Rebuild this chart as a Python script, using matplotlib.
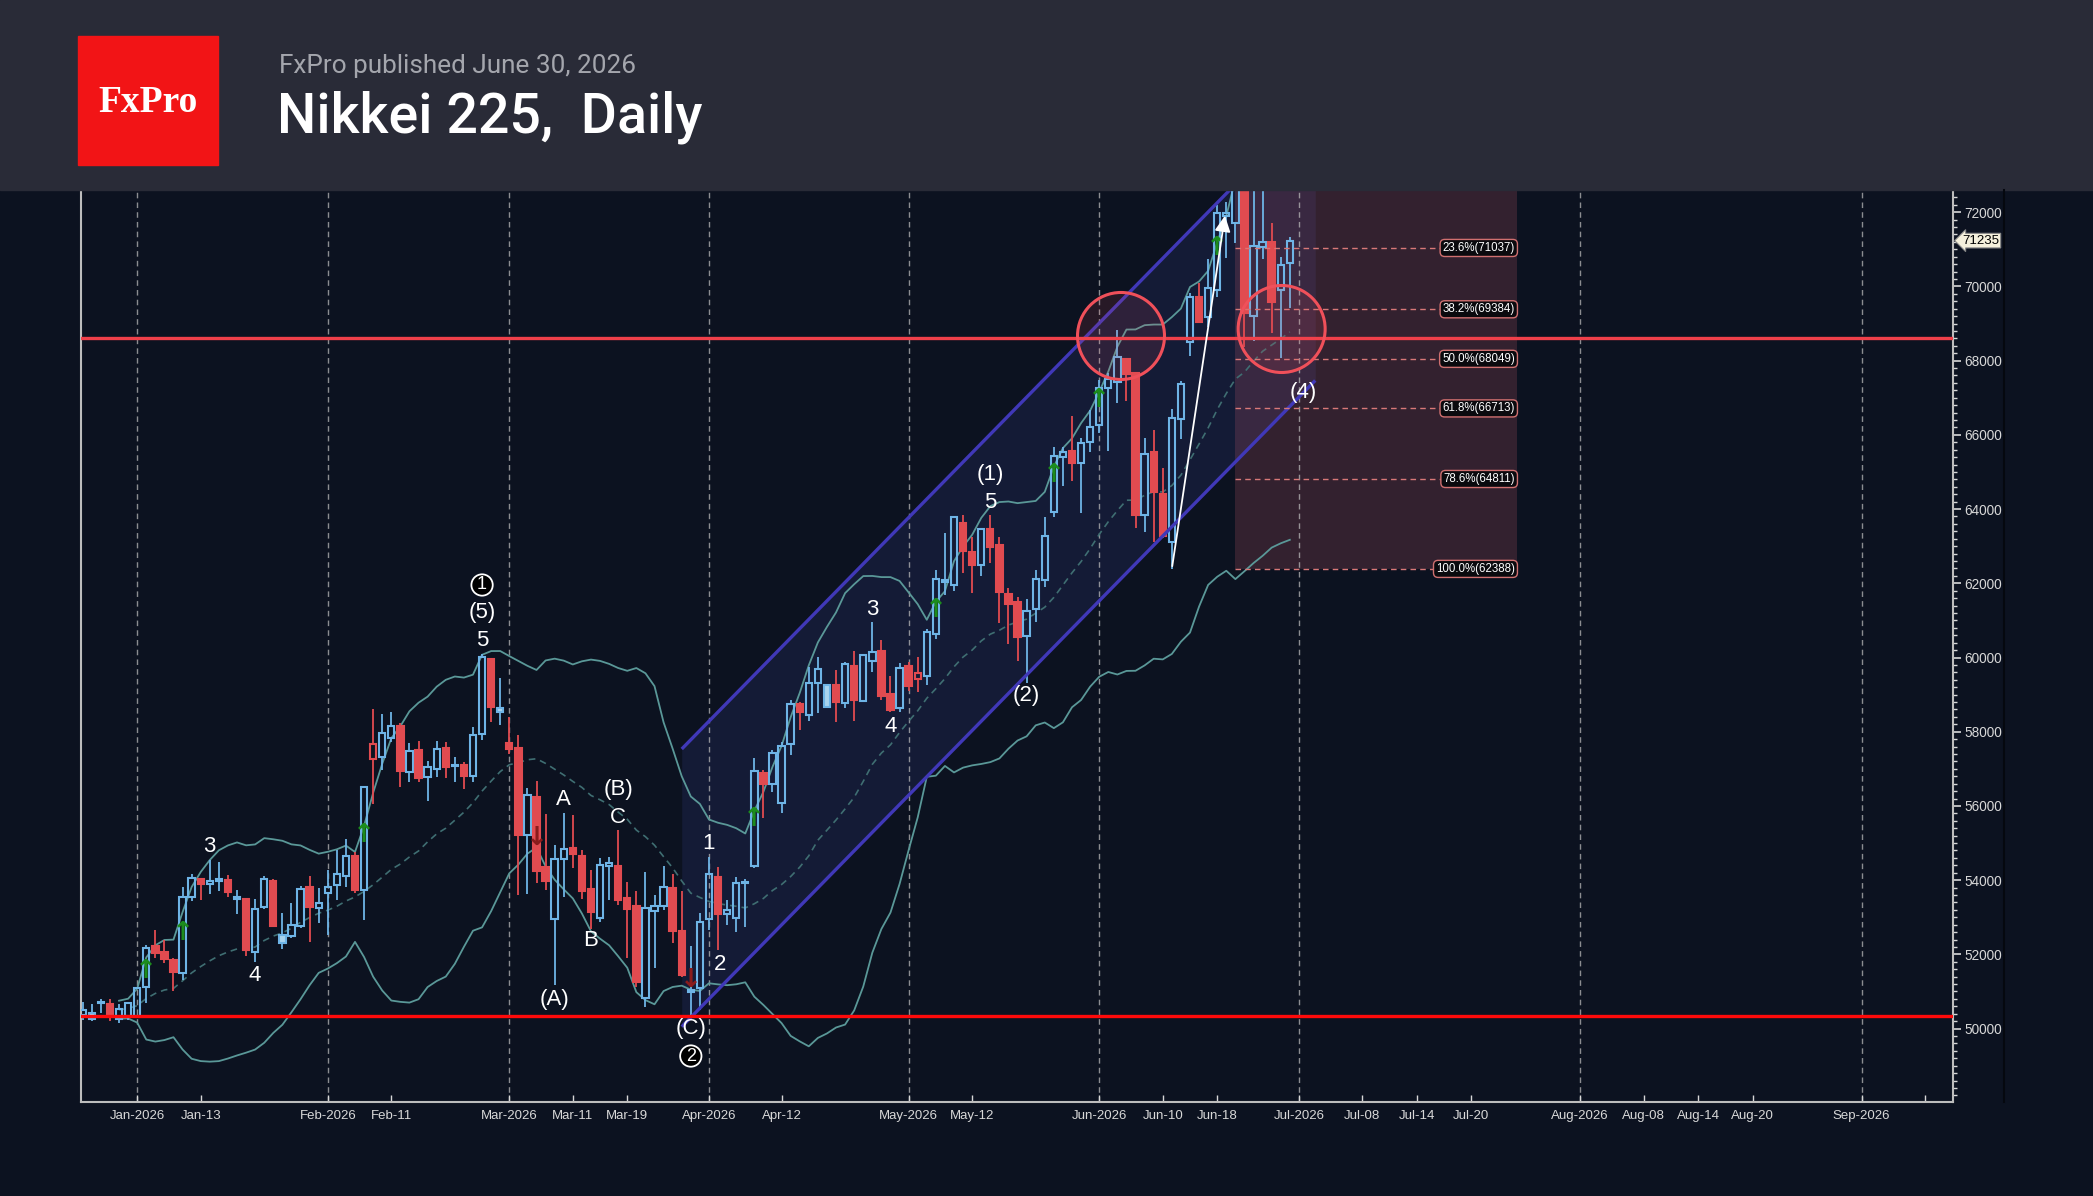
import numpy as np
import pandas as pd
import matplotlib
matplotlib.use('Agg')
import matplotlib.pyplot as plt
from matplotlib.patches import Rectangle, Ellipse
from matplotlib.lines import Line2D

# --- data (bar index 0 = first trading day of Jan 2026) ---
first_bar = -6
opens = [50365, 50250, 50680, 50660, 50260, 50340, 50340, 51130, 52220, 52070,
         51845, 51490, 53554, 54040, 53895, 53965, 54003, 53500, 53482, 52072,
         53284, 53985, 52314, 52494, 52772, 53823, 53240, 53645, 53870, 54121,
         54660, 53735, 57270, 57310, 57840, 58164, 56906, 57508, 56771, 56996,
         57570, 57075, 57103, 56807, 57939, 59951, 58631, 57687, 57570, 55217,
         56250, 54346, 52953, 54570, 54875, 54660, 53753, 52989, 54381, 54381,
         53510, 53312, 50816, 53177, 53303, 53798, 52639, 51013, 51085, 52953,
         54093, 53088, 52989, 53919, 54381, 56897, 56591, 56088, 57660, 58747,
         58451, 59322, 59250, 59250, 58765, 59781, 58837, 59906, 60185, 59008,
         58631, 59781, 59421, 59502, 60625, 62088, 61954, 63634, 62853, 62493,
         63455, 63032, 61703, 61505, 60589, 61299, 62089, 63931, 65413, 65566,
         65233, 65800, 66266, 67273, 67435, 68045, 67659, 63841, 65530, 64407,
         63122, 66428, 68512, 69725, 69186, 69905, 71899, 71701, 73200, 69204,
         71072, 71189, 69905, 70623]
highs = [50720, 50660, 50790, 50790, 50660, 50720, 51100, 52250, 52650, 52400,
         51910, 53820, 54155, 54066, 54540, 54478, 54140, 53733, 53527, 53482,
         54120, 54040, 53123, 53374, 53841, 54111, 53796, 54274, 54812, 55100,
         54750, 56502, 58604, 58478, 58541, 58226, 57705, 57760, 57202, 57750,
         57732, 57328, 57193, 58137, 60085, 59951, 59439, 58406, 57912, 56493,
         56663, 55783, 54947, 55819, 55756, 54812, 54273, 54588, 54633, 55352,
         53960, 53717, 54228, 53600, 54390, 54165, 53707, 52225, 53106, 54633,
         54345, 53465, 54093, 54030, 57283, 56969, 57508, 57732, 58855, 58810,
         59736, 60023, 59250, 59664, 59888, 60185, 60068, 60948, 60472, 59502,
         59862, 59888, 60005, 60760, 62358, 63365, 63778, 63841, 63239, 63464,
         63841, 63257, 61865, 61640, 61568, 62358, 63778, 65683, 65683, 66509,
         65907, 66671, 67480, 67677, 68827, 68045, 67659, 65925, 66132, 65099,
         66689, 67462, 69815, 70084, 70731, 72195, 72285, 73710, 73500, 72700,
         72600, 71701, 70785, 71324]
lows = [50230, 50200, 50410, 50210, 50140, 50230, 50300, 50700, 51890, 51775,
        51020, 51310, 53450, 53464, 53617, 53707, 53536, 53087, 51955, 51802,
        53212, 52745, 52135, 52440, 52700, 52323, 52853, 52522, 53465, 53825,
        53645, 52927, 56053, 56969, 57732, 56520, 56654, 56654, 56143, 56771,
        56744, 56636, 56448, 56654, 57777, 58271, 58181, 57400, 53600, 53618,
        53933, 53735, 51175, 53555, 54318, 53483, 52675, 52881, 53465, 53330,
        51900, 51112, 50591, 51623, 53200, 52298, 51400, 50300, 50500, 52657,
        52118, 52792, 52612, 52747, 54318, 55666, 56385, 55819, 57373, 58047,
        58300, 58514, 58630, 58271, 58640, 58298, 58800, 59601, 58855, 58541,
        58540, 59100, 59080, 59260, 60500, 61685, 61800, 62287, 61748, 62197,
        62538, 60939, 60355, 59915, 59304, 60966, 61900, 63796, 64622, 64766,
        63904, 65548, 66042, 65575, 66868, 66922, 63482, 63392, 63122, 63212,
        62388, 65880, 68126, 69024, 68917, 69725, 70758, 71162, 68377, 68530,
        70731, 68737, 68063, 69410]
closes = [50500, 50410, 50720, 50370, 50535, 50700, 51090, 52160, 52040, 51865,
          51515, 53536, 54066, 53895, 53975, 54040, 53680, 53530, 52117, 53230,
          54020, 52763, 52512, 52781, 53751, 53284, 53392, 53825, 54157, 54660,
          53735, 56502, 57680, 57975, 58164, 56942, 57490, 56744, 57040, 57535,
          57059, 57095, 56807, 57912, 60005, 58658, 58523, 57535, 55217, 56286,
          54256, 53987, 54570, 54850, 54696, 53717, 53151, 54408, 54453, 53465,
          53214, 51264, 53258, 53312, 53825, 52639, 51444, 50995, 52882, 54165,
          53079, 53196, 53914, 53960, 56942, 56591, 57418, 57624, 58747, 58541,
          59322, 59682, 58658, 58810, 59817, 58855, 60068, 60158, 58963, 58586,
          59727, 59242, 59574, 60697, 62107, 62043, 63778, 62880, 62493, 63464,
          62987, 61775, 61442, 60562, 61254, 62107, 63284, 65431, 65548, 65251,
          65790, 66222, 67255, 67506, 68108, 67632, 63841, 65476, 64470, 63275,
          66464, 67372, 69725, 69052, 69950, 71971, 71971, 73200, 69276, 71090,
          71207, 69590, 70578, 71235]
filled_blue = [-5, 16, 40, 61, 76, 89]
hollow_red = [26, 86]

tick_idx = [0, 7, 21, 28, 41, 48, 54, 63, 71, 85, 92, 106, 113, 119, 128,
            135, 141, 147, 159, 166, 172, 178, 190, 197]
tick_lbl = ['Jan-2026', 'Jan-13', 'Feb-2026', 'Feb-11', 'Mar-2026', 'Mar-11',
            'Mar-19', 'Apr-2026', 'Apr-12', 'May-2026', 'May-12', 'Jun-2026',
            'Jun-10', 'Jun-18', 'Jul-2026', 'Jul-08', 'Jul-14', 'Jul-20',
            'Aug-2026', 'Aug-08', 'Aug-14', 'Aug-20', 'Sep-2026', '']
month_idx = [0, 21, 41, 63, 85, 106, 128, 159, 190]

support = 50340
resistance = 68620
chan_x = [60.0, 129.8]
chan_lo = [50050, 67465]
chan_width = 7484

fib_pct = [23.6, 38.2, 50.0, 61.8, 78.6, 100.0]
fib_val = [71037, 69384, 68049, 66713, 64811, 62388]
fib_x = [121, 152]
fib_top = 73710

arrow_from = (114, 62388)
arrow_to = (119.9, 71980)

circles = [(108.4, 68665), (126.1, 68853)]

up_sig = [(1, 51550), (5, 52580), (25, 55217), (68, 55640), (88, 61270),
          (101, 64919), (106, 66940), (119, 71027)]
down_sig = [(44, 55127), (61, 51309)]

waves = [(8, 54909, '3'), (13, 51417, '4'), (38, 61200, '(5)'), (38, 60445, '5'),
         (47, 56160, 'A'), (46, 50770, '(A)'), (53, 56430, '(B)'), (53, 55675, 'C'),
         (50, 52360, 'B'), (61, 50015, '(C)'), (63, 54975, '1'), (64.2, 51740, '2'),
         (81, 61307, '3'), (83, 58154, '4'), (94, 64945, '(1)'), (94, 64190, '5'),
         (98, 58976, '(2)'), (128.5, 67142, '(4)')]
circled = [(38, 61954, '1'), (61, 49260, '2')]

last_price = 71235

# --- figure ---
W, H = 2093, 1196
BG = '#0c1220'
fig = plt.figure(figsize=(W / 100, H / 100), dpi=100)
fig.patch.set_facecolor(BG)


def fx(px):
    return px / W


def fy(py):
    return 1 - py / H


# header
fig.patches.append(Rectangle((0, fy(190)), 1, 190 / H, transform=fig.transFigure,
                             color='#292b37', zorder=0))
fig.patches.append(Rectangle((fx(78), fy(165)), (218 - 78) / W, (165 - 36) / H,
                             transform=fig.transFigure, color='#f21416', zorder=1))
fig.text(fx(148), fy(112), 'FxPro', color='white', fontsize=27, family='Liberation Serif',
         weight='bold', ha='center', va='baseline')
fig.text(fx(279), fy(73), 'FxPro published June 30, 2026', color='#a4a6ad', fontsize=18.8,
         family='Roboto', va='baseline')
fig.text(fx(277), fy(132), 'Nikkei 225,  Daily', color='white', fontsize=40,
         family='Roboto', weight='medium', va='baseline')

ax = fig.add_axes([fx(81), fy(1102), (1953 - 81) / W, (1102 - 190) / H])
ax.set_facecolor(BG)
ax.set_xlim(-6.19, 200.07)
ax.set_ylim(48021, 72599)

x = np.arange(first_bar, first_bar + len(closes))
o = np.array(opens, float)
h = np.array(highs, float)
l = np.array(lows, float)
c = np.array(closes, float)

# shaded zones
cx = np.array(chan_x)
clo = np.array(chan_lo, float)
ax.fill_between(cx, clo, clo + chan_width, color='#2a3570', alpha=0.28, lw=0, zorder=0)
ax.add_patch(Rectangle((fib_x[0], fib_val[-1]), fib_x[1] - fib_x[0], fib_top - fib_val[-1],
                       fc='#d06070', alpha=0.2, lw=0, zorder=0.5))

for m in month_idx:
    ax.axvline(m, color='#b8b8b8', ls=(0, (4, 3)), lw=1, alpha=0.75, zorder=1)

# bollinger bands 20,2
s = pd.Series(c)
mid = s.rolling(20, min_periods=5).mean()
sd = s.rolling(20, min_periods=5).std(ddof=0)
ax.plot(x, mid + 2 * sd, color='#5a9898', lw=1.3, zorder=2)
ax.plot(x, mid - 2 * sd, color='#5a9898', lw=1.3, zorder=2)
ax.plot(x, mid, color='#3f6e72', lw=1.2, ls=(0, (4, 3)), zorder=2)

# candles
BLUE = '#6eb4e6'
RED = '#e14b50'
LBLUE = '#a9d4ee'
bw = 0.7
for xi, oi, hi, li, ci in zip(x, o, h, l, c):
    top, bot = max(oi, ci), min(oi, ci)
    if top - bot < 40:
        top = bot + 40
    if xi in filled_blue:
        ec, fc = BLUE, LBLUE
    elif xi in hollow_red:
        ec, fc = RED, 'none'
    elif ci >= oi:
        ec, fc = BLUE, 'none'
    else:
        ec, fc = RED, RED
    ax.vlines(xi, top, hi, color=ec, lw=1.3, zorder=3)
    ax.vlines(xi, li, bot, color=ec, lw=1.3, zorder=3)
    ax.add_patch(Rectangle((xi - bw / 2, bot), bw, top - bot, fc=fc, ec=ec, lw=1.5, zorder=4))

# channel
ax.plot(cx, clo, color='#4038b8', lw=2.4, zorder=5, solid_capstyle='butt')
ax.plot(cx, clo + chan_width, color='#4038b8', lw=2.4, zorder=5, solid_capstyle='butt')

# horizontal levels
ax.axhline(resistance, color='#f0404a', lw=2.4, zorder=6)
ax.axhline(support, color='#ff0a0a', lw=2.4, zorder=6)

# fibo
for p, v in zip(fib_pct, fib_val):
    ax.plot([fib_x[0], 144.3], [v, v], color='#d87878', lw=1, ls=(0, (4, 3)), zorder=5)
    ax.text(151.8, v, f'{p:.1f}%({v})', color='white', fontsize=8.3, ha='right', va='center',
            family='Liberation Sans', zorder=7,
            bbox=dict(boxstyle='round,pad=0.22,rounding_size=0.4', fc='#0a0a0e', ec='#d07070', lw=1))

# circles (round in pixels: 9.076 px per bar, 0.0371 px per point)
r_px = 43.5
for cxy in circles:
    ax.add_patch(Ellipse(cxy, 2 * r_px / 9.076, 2 * r_px / 0.0371, fc=(0.94, 0.31, 0.35, 0.12),
                         ec='#f0505a', lw=2.2, zorder=6))

ax.annotate('', xy=arrow_to, xytext=arrow_from,
            arrowprops=dict(arrowstyle='-|>', color='white', lw=1.3, mutation_scale=24), zorder=7)

for xi, yi in up_sig:
    ax.text(xi, yi, '\u2191', color='#1c8c1c', fontsize=19, weight='bold', ha='center',
            va='center', family='DejaVu Sans', zorder=6)
for xi, yi in down_sig:
    ax.text(xi, yi, '\u2193', color='#8a1c1c', fontsize=19, weight='bold', ha='center',
            va='center', family='DejaVu Sans', zorder=6)

for xi, yi, t in waves:
    ax.text(xi, yi, t, color='white', fontsize=16, ha='center', va='center',
            family='Liberation Sans', zorder=8)
for xi, yi, t in circled:
    ax.text(xi, yi, t, color='white', fontsize=13, ha='center', va='center',
            family='Liberation Sans', zorder=8,
            bbox=dict(boxstyle='circle,pad=0.12', fc='black', ec='white', lw=1.3))

# axes styling
ax.spines['top'].set_visible(False)
for side in ['left', 'bottom', 'right']:
    ax.spines[side].set_color('#bdbdbd')
    ax.spines[side].set_linewidth(1.5)
ax.yaxis.tick_right()
ax.set_yticks(np.arange(50000, 72001, 2000))
ax.set_yticks(np.arange(48200, 72600, 200), minor=True)
ax.tick_params(axis='y', which='major', colors='#d8d8d8', length=6, width=1.2, labelsize=9.8, pad=2)
ax.tick_params(axis='y', which='minor', colors='#d8d8d8', length=3, width=1)
ax.set_xticks(tick_idx)
ax.set_xticklabels(tick_lbl)
ax.tick_params(axis='x', colors='#d8d8d8', direction='in', length=5, width=1, labelsize=9.5, pad=6)
for t in ax.get_xticklabels() + ax.get_yticklabels():
    t.set_family('Liberation Sans')

ax.text(1.005, last_price, str(last_price), transform=ax.get_yaxis_transform(), color='black',
        fontsize=9.5, ha='left', va='center', family='Liberation Sans', zorder=9, clip_on=False,
        bbox=dict(boxstyle='larrow,pad=0.1', fc='#f5f0dc', ec='#888888', lw=0.8))

fig.add_artist(Line2D([fx(2004), fx(2004)], [fy(1102), fy(190)], color='#05080f', lw=1.5))

fig.savefig('out.png', dpi=100, facecolor=fig.get_facecolor())
